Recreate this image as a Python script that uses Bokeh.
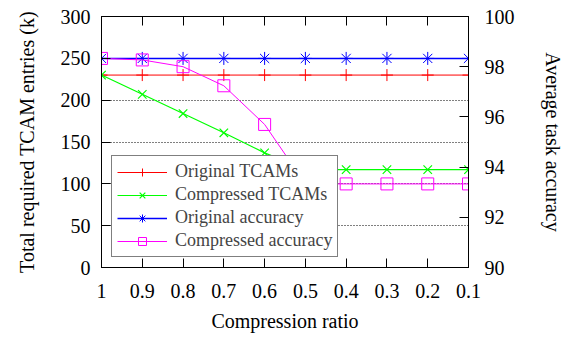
from bokeh.plotting import figure
from bokeh.models import (Range1d, LinearAxis, FixedTicker, Legend, LegendItem,
                          ColumnDataSource, Grid)
from bokeh.embed import file_html
from bokeh.resources import INLINE

ratio = [1.0, 0.9, 0.8, 0.7, 0.6, 0.5, 0.4, 0.3, 0.2, 0.1]
ratio_labels = ["1", "0.9", "0.8", "0.7", "0.6", "0.5", "0.4", "0.3", "0.2", "0.1"]
orig_tcam = [230, 230, 230, 230, 230, 230, 230, 230, 230, 230]
comp_tcam = [230, 207, 184, 161, 137, 117, 117, 117, 117, 117]
orig_acc = [98.33, 98.33, 98.33, 98.33, 98.33, 98.33, 98.33, 98.33, 98.33, 98.33]
comp_acc = [98.33, 98.27, 98.0, 97.24, 95.70, 93.33, 93.33, 93.33, 93.33, 93.33]
left_ticks = [0, 50, 100, 150, 200, 250, 300]
right_ticks = [90, 92, 94, 96, 98, 100]

FONT = "Liberation Serif"

p = figure(width=568, height=346, output_backend="svg", toolbar_location=None,
           x_range=Range1d(1.0, 0.1), y_range=Range1d(0, 300),
           min_border_left=101, min_border_right=100, min_border_top=16,
           min_border_bottom=79, x_axis_location=None, y_axis_location=None)
p.extra_y_ranges = {"acc": Range1d(90, 100)}
p.outline_line_color = "black"
p.outline_line_width = 1
p.background_fill_color = "white"
p.border_fill_color = "white"
p.xgrid.visible = False
p.ygrid.visible = False

def style(ax, ticks, size="20px"):
    ax.ticker = FixedTicker(ticks=ticks)
    ax.major_tick_in = 9
    ax.major_tick_out = 0
    ax.minor_tick_line_color = None
    ax.major_label_text_font = FONT
    ax.major_label_text_font_size = size
    ax.major_label_text_color = "black"
    ax.axis_label_text_font = FONT
    ax.axis_label_text_font_size = "20px"
    ax.axis_label_text_font_style = "normal"
    ax.axis_label_text_color = "black"
    ax.axis_line_color = "black"
    ax.major_tick_line_color = "black"

xb = LinearAxis(axis_label="Compression ratio")
style(xb, ratio)
xb.major_label_overrides = {r: l for r, l in zip(ratio, ratio_labels)}
xb.major_label_standoff = 16
xb.axis_label_standoff = 9
p.add_layout(xb, "below")

xt = LinearAxis()
style(xt, ratio)
xt.major_label_text_font_size = "0px"
xt.major_label_text_color = None
xt.major_label_standoff = 0
p.add_layout(xt, "above")

yl = LinearAxis(axis_label="Total required TCAM entries (k)")
style(yl, left_ticks)
yl.major_label_standoff = 11
yl.axis_label_standoff = 20
p.add_layout(yl, "left")

yr = LinearAxis(y_range_name="acc", axis_label="Average task accuracy")
style(yr, right_ticks)
yr.major_label_standoff = 16
yr.axis_label_standoff = 24
p.add_layout(yr, "right")

g = Grid(dimension=1, ticker=FixedTicker(ticks=[50, 100, 150, 200, 250]))
g.grid_line_color = "black"
g.grid_line_dash = "1 2"
g.grid_line_width = 1
p.add_layout(g)

src = ColumnDataSource(dict(x=ratio, ot=orig_tcam, ct=comp_tcam, oa=orig_acc, ca=comp_acc))

r1l = p.line("x", "ot", source=src, color="#ff0000", line_width=1)
r1m = p.scatter("x", "ot", source=src, marker="cross", size=12, line_color="#ff0000")
r2l = p.line("x", "ct", source=src, color="#00ff00", line_width=1.2)
r2m = p.scatter("x", "ct", source=src, marker="x", size=12, line_color="#00ff00",
                line_width=1.2)
r3l = p.line("x", "oa", source=src, y_range_name="acc", color="#0000ff", line_width=1.5)
r3m = p.scatter("x", "oa", source=src, y_range_name="acc", marker="asterisk", size=13,
                line_color="#0000ff")
r4l = p.line("x", "ca", source=src, y_range_name="acc", color="#ff00ff", line_width=1)
r4m = p.scatter("x", "ca", source=src, y_range_name="acc", marker="square", size=12,
                line_color="#ff00ff", fill_color=None)

legend = Legend(items=[
    LegendItem(label="Original TCAMs", renderers=[r1l, r1m]),
    LegendItem(label="Compressed TCAMs", renderers=[r2l, r2m]),
    LegendItem(label="Original accuracy", renderers=[r3l, r3m]),
    LegendItem(label="Compressed accuracy", renderers=[r4l, r4m]),
], location=(10, 10))
legend.label_text_font = FONT
legend.label_text_font_size = "18px"
legend.label_height = 20
legend.glyph_height = 20
legend.glyph_width = 50
legend.spacing = 2
legend.padding = 5
legend.margin = 0
legend.label_standoff = 8
legend.border_line_color = "black"
legend.border_line_width = 1
legend.background_fill_color = "white"
legend.background_fill_alpha = 1
p.add_layout(legend, "center")

open("out.html", "w").write(file_html(p, INLINE))
